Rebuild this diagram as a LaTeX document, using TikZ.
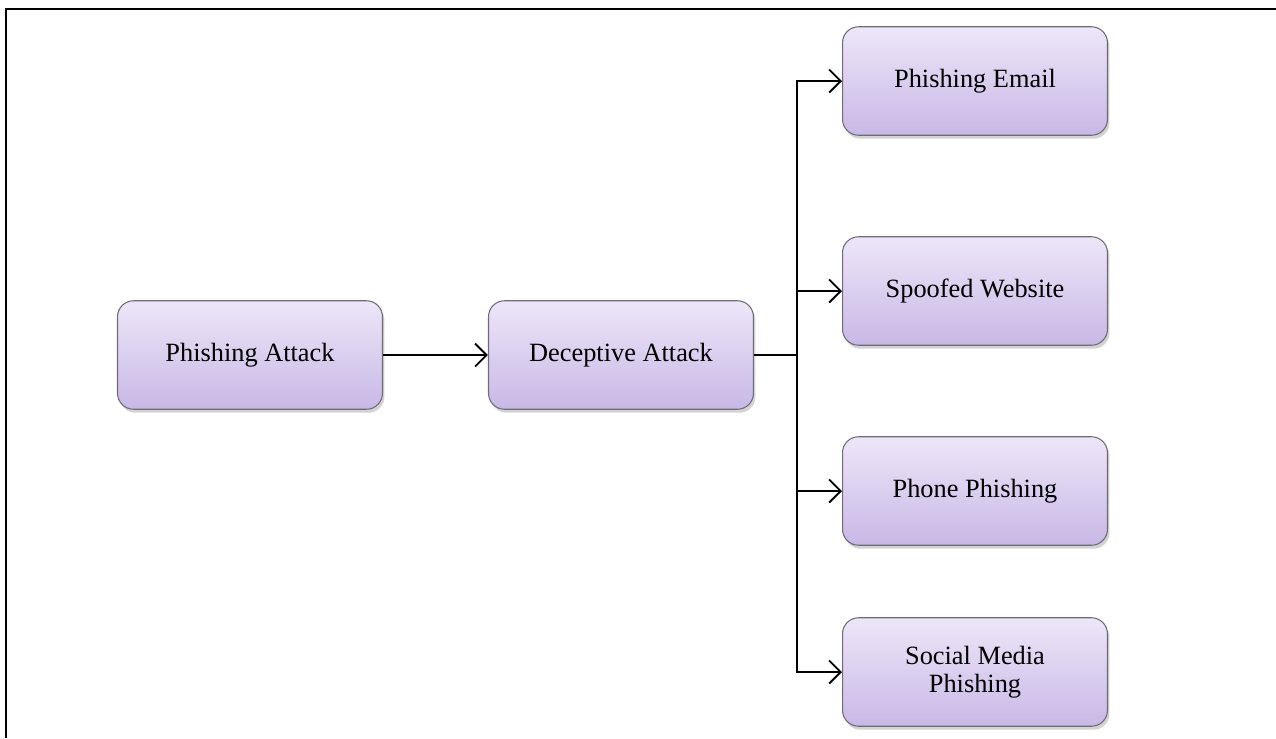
\documentclass[tikz,border=0pt]{standalone}
\usepackage{fontspec}
\setmainfont{Liberation Serif}
\usepackage{tikz}
\usetikzlibrary{arrows.meta,positioning,shadows}
\definecolor{boxtop}{HTML}{EDE6F8}
\definecolor{boxbottom}{HTML}{C8B8E6}
\definecolor{boxedge}{HTML}{6E6A78}

\begin{document}
\begin{tikzpicture}[x=0.02cm, y=-0.02cm,
    stage/.style={draw=boxedge, line width=0.6pt, rounded corners=0.32cm, top color=boxtop, bottom color=boxbottom,
        minimum width=5.3cm, minimum height=2.17cm, align=center, font=\fontsize{15}{16}\selectfont,
        drop shadow={opacity=0.35, shadow xshift=0.4mm, shadow yshift=-0.7mm}},
    link/.style={-{Straight Barb[length=2.3mm, width=4.6mm, line width=1.1pt]}, line width=1.1pt}
]
    \useasboundingbox (0,0) rectangle (1276,738);
    \draw[line width=1.3pt] (6,738) -- (6,9) -- (1276,9);

    \node[stage] (attack) at (250,355) {Phishing Attack};
    \node[stage, right=2.1cm of attack] (deceptive) {Deceptive Attack};

    \node[stage] (email) at (975,81) {Phishing Email};
    \node[stage] (website) at (975,291) {Spoofed Website};
    \node[stage] (phone) at (975,491) {Phone Phishing};
    \node[stage] (social) at (975,672) {Social Media\\Phishing};

    \coordinate[right=0.86cm of deceptive] (split);

    \draw[link] (attack) -- (deceptive);
    \draw[link] (deceptive) -- (split) |- (email);
    \draw[link] (deceptive) -- (split) |- (website);
    \draw[link] (deceptive) -- (split) |- (phone);
    \draw[link] (deceptive) -- (split) |- (social);
\end{tikzpicture}
\end{document}
